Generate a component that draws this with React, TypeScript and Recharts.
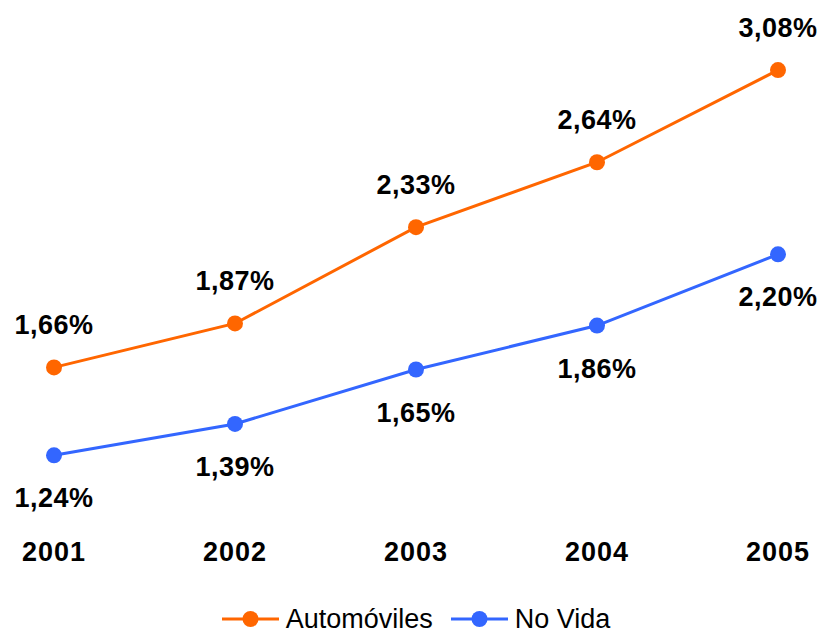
import { LabelList, Legend, Line, LineChart, XAxis, YAxis } from "recharts";

const years = ["2001", "2002", "2003", "2004", "2005"];
const automoviles = [1.66, 1.87, 2.33, 2.64, 3.08];
const noVida = [1.24, 1.39, 1.65, 1.86, 2.2];

const ORANGE = "#FF6600";
const BLUE = "#3366FF";
const FONT = "Arial, 'Liberation Sans', sans-serif";

const data = years.map((year, i) => ({
  year,
  automoviles: automoviles[i],
  noVida: noVida[i],
}));

const fmt = (v: number) => v.toFixed(2).replace(".", ",") + "%";

function makeLabel(above: boolean) {
  return (props: any) => {
    const x = props.x ?? props.viewBox?.x;
    const y = props.y ?? props.viewBox?.y;
    return (
      <text
        x={x}
        y={above ? y - 33 : y + 52}
        textAnchor="middle"
        fontFamily={FONT}
        fontWeight="bold"
        fontSize={27}
        letterSpacing={0.5}
        fill="#000"
      >
        {fmt(Number(props.value))}
      </text>
    );
  };
}

const legendItems = [
  { name: "Automóviles", color: ORANGE },
  { name: "No Vida", color: BLUE },
];

function LegendContent() {
  return (
    <div
      style={{
        height: 30,
        display: "flex",
        justifyContent: "center",
        alignItems: "center",
        fontFamily: FONT,
        fontSize: 27,
        color: "#000",
      }}
    >
      {legendItems.map((it) => (
        <div key={it.name} style={{ display: "flex", alignItems: "center", margin: "0 9px" }}>
          <svg width={57} height={20} style={{ marginRight: 7 }}>
            <line x1={0} y1={10} x2={57} y2={10} stroke={it.color} strokeWidth={3} />
            <circle cx={28.5} cy={10} r={8} fill={it.color} />
          </svg>
          <span>{it.name}</span>
        </div>
      ))}
    </div>
  );
}

export default function App() {
  return (
    <LineChart
      width={815}
      height={626}
      data={data}
      margin={{ top: 37, right: 45, bottom: 0, left: 46 }}
    >
      <XAxis
        dataKey="year"
        height={67}
        axisLine={false}
        tickLine={false}
        padding={{ left: 0, right: 0 }}
        interval={0}
        dy={-3}
        tick={{ fontSize: 27, fontWeight: "bold", fill: "#000", fontFamily: FONT, letterSpacing: 1 }}
      />
      <YAxis hide domain={[0.85, 3.2]} />
      <Legend verticalAlign="bottom" content={<LegendContent />} />
      <Line
        dataKey="automoviles"
        name="Automóviles"
        stroke={ORANGE}
        strokeWidth={3}
        dot={{ r: 8, fill: ORANGE, stroke: "none" }}
        activeDot={false}
        isAnimationActive={false}
      >
        <LabelList dataKey="automoviles" content={makeLabel(true)} />
      </Line>
      <Line
        dataKey="noVida"
        name="No Vida"
        stroke={BLUE}
        strokeWidth={3}
        dot={{ r: 8, fill: BLUE, stroke: "none" }}
        activeDot={false}
        isAnimationActive={false}
      >
        <LabelList dataKey="noVida" content={makeLabel(false)} />
      </Line>
    </LineChart>
  );
}
